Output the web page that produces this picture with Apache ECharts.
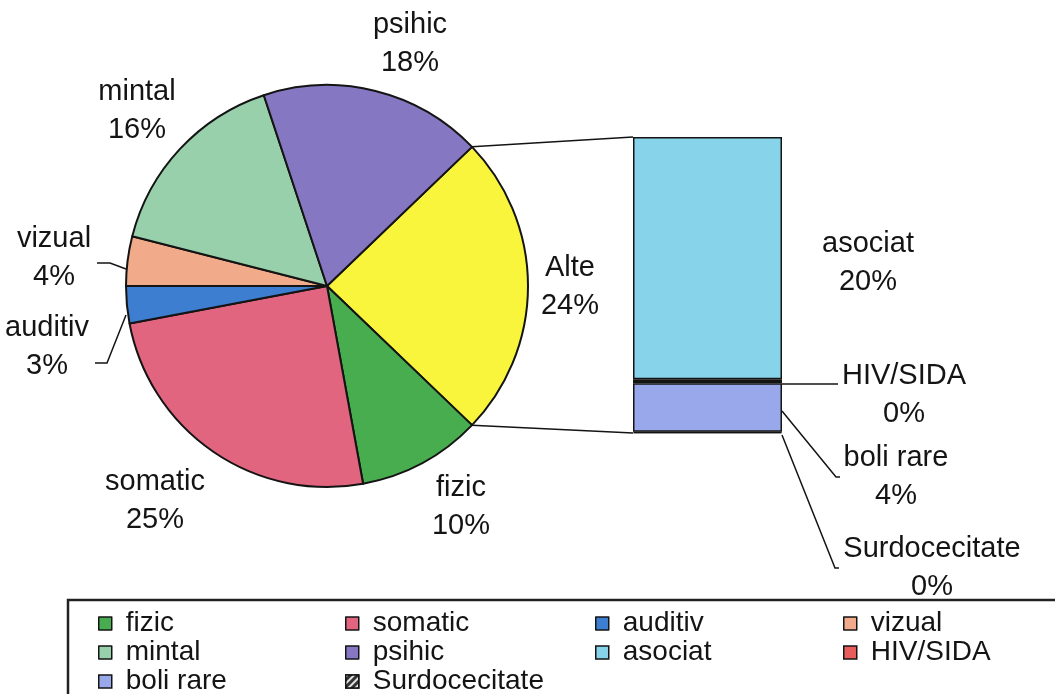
<!DOCTYPE html>
<html>
<head>
<meta charset="utf-8">
<script src="https://cdn.jsdelivr.net/npm/echarts@6/dist/echarts.min.js"></script>
<style>
  html, body { margin: 0; padding: 0; background: #fff; }
  #chart { width: 1055px; height: 694px; }
</style>
</head>
<body>
<div id="chart"></div>
<script>
// pie slices, percent of total ("Alte" is the sum of the bar below)
var pieNames = ['Alte', 'fizic', 'somatic', 'auditiv', 'vizual', 'mintal', 'psihic'];
var pieValues = [null, 10, 25, 3, 4, 16, 18];
// breakdown of "Alte" shown in the bar
var barNames = ['asociat', 'HIV/SIDA', 'boli rare', 'Surdocecitate'];
var barValues = [20, 0.35, 4, 0.1];
// legend layout (columns)
var legendCols = [
    ['fizic', 'mintal', 'boli rare'],
    ['somatic', 'psihic', 'Surdocecitate'],
    ['auditiv', 'asociat'],
    ['vizual', 'HIV/SIDA']
];

var colors = {
    'Alte': '#f9f43c', 'fizic': '#48ad4f', 'somatic': '#e2657f', 'auditiv': '#3d7ed0',
    'vizual': '#f2ab8a', 'mintal': '#97d0aa', 'psihic': '#8677c2',
    'asociat': '#86d3ea', 'HIV/SIDA': '#e85c5c', 'boli rare': '#98a8ea', 'Surdocecitate': '#333333'
};

var FONT = '"Liberation Sans", Arial, sans-serif';
var INK = '#141414';

var altSum = barValues.reduce(function (a, b) { return a + b; }, 0);
pieValues[0] = altSum;
var total = pieValues.reduce(function (a, b) { return a + b; }, 0);

var pieC = [327, 286], pieR = 201;
var halfAlte = altSum / total * 180;   // Alte slice centred on the right
var grid = { left: 633, top: 137, width: 149, height: 296 };

// where labels sit (centre of text) and their leader lines
var pieLabelPos = {
    'psihic': [410, 44], 'mintal': [137, 111], 'vizual': [54, 258], 'auditiv': [47, 347],
    'somatic': [155, 501], 'fizic': [461, 507], 'Alte': [570, 287]
};
var pieLeader = {
    'vizual': [[126, 269], [110, 263], [97, 263]],
    'auditiv': [[126, 315], [107, 363], [95, 363]]
};
var barLabelPos = {
    'asociat': [868, 263], 'HIV/SIDA': [904, 395], 'boli rare': [896, 477], 'Surdocecitate': [932, 568]
};
var barLeader = {
    'HIV/SIDA': [[782, 384], [838, 384]],
    'boli rare': [[782, 411], [836, 477], [840, 477]],
    'Surdocecitate': [[782, 435], [835, 568], [839, 568]]
};

var labelText = { fontFamily: FONT, fontSize: 29, lineHeight: 38, color: INK };
var leaderStyle = { color: INK, width: 1.5 };

var pieData = pieNames.map(function (n, i) {
    var d = { name: n, value: pieValues[i], itemStyle: { color: colors[n] } };
    d.labelLine = pieLeader[n] ? { show: true, lineStyle: leaderStyle } : { show: false };
    return d;
});

var series = [{
    type: 'pie',
    center: pieC,
    radius: pieR,
    startAngle: halfAlte,
    clockwise: true,
    percentPrecision: 0,
    avoidLabelOverlap: false,
    silent: true,
    data: pieData,
    itemStyle: { borderColor: INK, borderWidth: 2 },
    label: Object.assign({ show: true, position: 'outside', formatter: '{b}\n{d}%' }, labelText),
    labelLine: { show: false, lineStyle: leaderStyle },
    labelLayout: function (p) {
        var n = pieNames[p.dataIndex];
        var pos = pieLabelPos[n];
        var out = { x: pos[0], y: pos[1], align: 'center', verticalAlign: 'middle' };
        if (pieLeader[n]) out.labelLinePoints = pieLeader[n];
        return out;
    }
}];

// stack bottom-up: last name goes to the bottom
barNames.slice().reverse().forEach(function (n) {
    var v = barValues[barNames.indexOf(n)];
    var s = {
        type: 'bar',
        name: n,
        stack: 'alte',
        barWidth: '100%',
        silent: true,
        data: [v],
        itemStyle: { color: colors[n], borderColor: INK, borderWidth: n === 'HIV/SIDA' ? 2 : 1.5 },
        label: Object.assign({
            show: true, position: 'right',
            formatter: function (p) { return p.seriesName + '\n' + Math.round(p.value / total * 100) + '%'; }
        }, labelText),
        labelLayout: function () {
            var pos = barLabelPos[n];
            return { x: pos[0], y: pos[1], align: 'center', verticalAlign: 'middle' };
        }
    };
    if (n === 'Surdocecitate') {
        s.itemStyle.decal = { color: 'rgba(255,255,255,0.85)', dashArrayX: [1, 0], dashArrayY: [2, 3], rotation: -Math.PI / 4 };
    }
    series.push(s);
});

var colX = [93, 340, 590, 838];
var legends = legendCols.map(function (col, i) {
    return {
        orient: 'vertical', left: colX[i], top: 604, height: 120,
        data: col, icon: 'rect', itemWidth: 13, itemHeight: 13, itemGap: 0,
        selectedMode: false,
        itemStyle: { borderColor: INK, borderWidth: 1.5 },
        textStyle: { fontFamily: FONT, fontSize: 28, lineHeight: 29, color: INK, padding: [0, 0, 0, 9] }
    };
});

var a = halfAlte * Math.PI / 180;
var pUp = [pieC[0] + pieR * Math.cos(a), pieC[1] - pieR * Math.sin(a)];
var pDn = [pieC[0] + pieR * Math.cos(a), pieC[1] + pieR * Math.sin(a)];

var graphics = [
    { type: 'line', shape: { x1: pUp[0], y1: pUp[1], x2: grid.left, y2: grid.top }, style: { stroke: INK, lineWidth: 1.5 } },
    { type: 'line', shape: { x1: pDn[0], y1: pDn[1], x2: grid.left, y2: grid.top + grid.height }, style: { stroke: INK, lineWidth: 1.5 } },
    { type: 'rect', shape: { x: 68, y: 600, width: 1010, height: 120 }, style: { fill: 'none', stroke: '#222', lineWidth: 2.5 } }
];
Object.keys(barLeader).forEach(function (n) {
    graphics.push({ type: 'polyline', shape: { points: barLeader[n] }, style: { stroke: INK, lineWidth: 1.5, fill: 'none' } });
});

var option = {
    animation: false,
    backgroundColor: '#fff',
    grid: grid,
    xAxis: { type: 'category', data: [''], show: false },
    yAxis: { type: 'value', min: 0, max: altSum, show: false },
    legend: legends,
    series: series,
    graphic: graphics
};

var chart = echarts.init(document.getElementById('chart'));
chart.setOption(option);
</script>
</body>
</html>
